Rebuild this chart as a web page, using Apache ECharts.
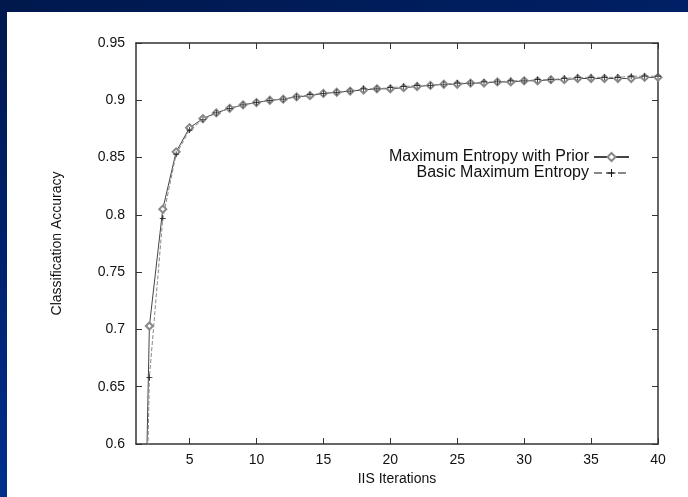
<!DOCTYPE html>
<head>
    <meta charset="utf-8">
    <title>Classification Accuracy vs IIS Iterations</title>
    <script src="https://cdn.jsdelivr.net/npm/echarts@6/dist/echarts.min.js"></script>
    <style>
        body { margin:0; width:688px; height:497px; overflow:hidden;
               background: linear-gradient(165deg, #00184c 0%, #002370 40%, #0036a4 100%); }
        #main { position:absolute; left:7px; top:12px; width:681px; height:485px; background:#fff; }
    </style>
</head>
<body>
    <div id="main"></div>
    <script type="text/javascript">
        // IIS iterations 1..40
        var iterations = [];
        for (var i = 1; i <= 40; i++) iterations.push(i);
        var withPrior = [0.12, 0.703, 0.805, 0.855, 0.876, 0.884, 0.889, 0.893, 0.896, 0.898,
                         0.900, 0.901, 0.903, 0.904, 0.906, 0.907, 0.908, 0.909, 0.910, 0.910,
                         0.911, 0.912, 0.913, 0.914, 0.914, 0.915, 0.915, 0.916, 0.916, 0.917,
                         0.917, 0.918, 0.918, 0.919, 0.919, 0.919, 0.919, 0.919, 0.920, 0.920];
        var basic     = [0.10, 0.658, 0.797, 0.853, 0.874, 0.883, 0.889, 0.893, 0.896, 0.898,
                         0.900, 0.901, 0.903, 0.905, 0.906, 0.907, 0.908, 0.910, 0.910, 0.911,
                         0.912, 0.913, 0.913, 0.914, 0.915, 0.915, 0.916, 0.916, 0.917, 0.917,
                         0.918, 0.918, 0.919, 0.920, 0.920, 0.920, 0.920, 0.921, 0.921, 0.921];
        var xTicks = [5, 10, 15, 20, 25, 30, 35, 40];

        function pairs(ys) {
            return iterations.map(function (x, k) { return [x, ys[k]]; });
        }

        var font = '"Liberation Sans", Arial, sans-serif';
        var axisLine = { show: true, lineStyle: { color: '#333', width: 1.5 } };
        var tickIn = { show: true, inside: true, length: 6, lineStyle: { color: '#333' } };

        var myChart = echarts.init(document.getElementById('main'));
        var option = {
            animation: false,
            grid: { left: 129, right: 30, top: 31, bottom: 53, show: false },
            legend: {
                orient: 'vertical', right: 53, top: 132, align: 'right',
                itemWidth: 35, itemHeight: 10, itemGap: 0,
                textStyle: { fontFamily: font, fontSize: 16, color: '#111' },
                data: ['Maximum Entropy with Prior', 'Basic Maximum Entropy']
            },
            xAxis: [{
                type: 'value', min: 1, max: 40, position: 'bottom',
                name: 'IIS Iterations', nameLocation: 'middle', nameGap: 27,
                nameTextStyle: { fontFamily: font, fontSize: 14, color: '#111' },
                axisLine: axisLine,
                axisTick: { show: true, inside: true, length: 6, lineStyle: { color: '#333' }, customValues: xTicks },
                axisLabel: { customValues: xTicks, margin: 9, fontFamily: font, fontSize: 14, color: '#111' },
                splitLine: { show: false }
            }, {
                type: 'value', min: 1, max: 40, position: 'top',
                axisLine: axisLine,
                axisTick: { show: true, inside: true, length: 6, lineStyle: { color: '#333' }, customValues: xTicks },
                axisLabel: { show: false, customValues: xTicks },
                splitLine: { show: false }
            }],
            yAxis: [{
                type: 'value', min: 0.6, max: 0.95, interval: 0.05, position: 'left',
                name: 'Classification Accuracy', nameLocation: 'middle', nameGap: 72,
                nameTextStyle: { fontFamily: font, fontSize: 14, color: '#111' },
                axisLine: axisLine, axisTick: tickIn,
                axisLabel: { margin: 11, fontFamily: font, fontSize: 14, color: '#111',
                             formatter: function (v) { return String(+v.toFixed(2)); } },
                splitLine: { show: false }
            }, {
                type: 'value', min: 0.6, max: 0.95, interval: 0.05, position: 'right',
                axisLine: axisLine, axisTick: tickIn,
                axisLabel: { show: false }, splitLine: { show: false }
            }],
            series: [{
                name: 'Maximum Entropy with Prior', type: 'line',
                data: pairs(withPrior),
                symbol: 'emptyDiamond', symbolSize: 7,
                itemStyle: { color: '#888', borderWidth: 1.3 },
                lineStyle: { color: '#444', width: 1, type: 'solid' }
            }, {
                name: 'Basic Maximum Entropy', type: 'line',
                data: pairs(basic),
                symbol: 'path://M4.4,0H5.6V4.4H10V5.6H5.6V10H4.4V5.6H0V4.4H4.4Z', symbolSize: 6,
                itemStyle: { color: '#111' },
                lineStyle: { color: '#888', width: 1, type: 'dashed' }
            }]
        };
        myChart.setOption(option);
    </script>
</body>
